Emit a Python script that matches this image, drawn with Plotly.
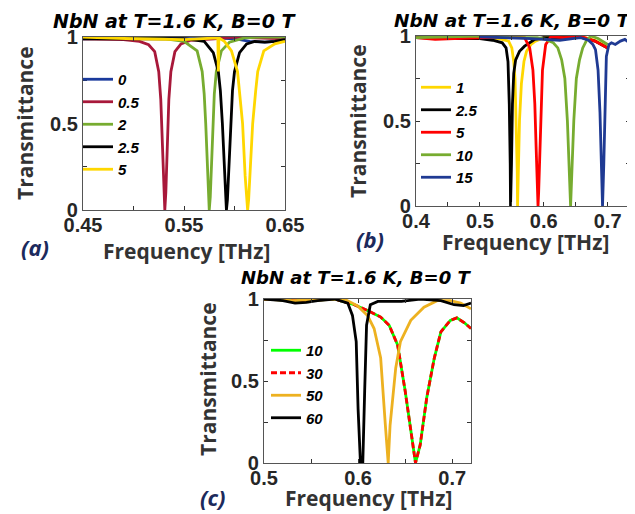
import plotly.graph_objects as go

# ---------------- Panel (a) data ----------------
a_names = ["0", "0.5", "2", "2.5", "5"]
a_colors = ["#1a3a9c", "#a8183a", "#77ac30", "#000000", "#ffd700"]
a_x0 = [0.45, 0.50, 0.55, 0.58, 0.60, 0.615, 0.63, 0.64, 0.65]
a_y0 = [0.99, 0.995, 0.99, 0.995, 0.99, 0.975, 0.97, 0.975, 0.985]
a_x05 = [0.45, 0.49, 0.506, 0.515, 0.521, 0.525, 0.527, 0.529, 0.530, 0.531, 0.532, 0.533, 0.535, 0.537, 0.541, 0.547, 0.556, 0.58, 0.60, 0.62, 0.65]
a_y05 = [0.99, 0.985, 0.975, 0.955, 0.915, 0.80, 0.64, 0.31, 0.10, 0.0, 0.10, 0.31, 0.64, 0.80, 0.915, 0.96, 0.98, 0.99, 1.0, 0.995, 0.99]
a_x2 = [0.45, 0.50, 0.53, 0.55, 0.563, 0.568, 0.570, 0.5715, 0.573, 0.574, 0.575, 0.576, 0.577, 0.5785, 0.580, 0.582, 0.587, 0.595, 0.61, 0.63, 0.65]
a_y2 = [1.0, 0.995, 0.99, 0.975, 0.92, 0.80, 0.67, 0.5, 0.25, 0.075, 0.0, 0.075, 0.25, 0.5, 0.67, 0.80, 0.92, 0.97, 0.995, 1.0, 1.0]
a_x25 = [0.45, 0.50, 0.55, 0.57, 0.579, 0.584, 0.586, 0.588, 0.590, 0.591, 0.592, 0.593, 0.594, 0.596, 0.598, 0.600, 0.605, 0.612, 0.62, 0.63, 0.64, 0.65]
a_y25 = [0.99, 0.99, 0.99, 0.975, 0.91, 0.80, 0.69, 0.5, 0.2, 0.06, 0.0, 0.06, 0.2, 0.5, 0.69, 0.80, 0.91, 0.96, 0.975, 0.97, 0.975, 0.985]
a_x5 = [0.45, 0.50, 0.55, 0.575, 0.5835, 0.584, 0.5845, 0.59, 0.597, 0.603, 0.605, 0.608, 0.6105, 0.612, 0.613, 0.614, 0.6155, 0.618, 0.621, 0.623, 0.629, 0.64, 0.65]
a_y5 = [1.0, 0.99, 0.985, 0.99, 0.995, 0.80, 0.995, 0.975, 0.92, 0.80, 0.69, 0.5, 0.2, 0.06, 0.0, 0.06, 0.2, 0.5, 0.69, 0.80, 0.92, 0.96, 0.975]
a_xs = [a_x0, a_x05, a_x2, a_x25, a_x5]
a_ys = [a_y0, a_y05, a_y2, a_y25, a_y5]

# ---------------- Panel (b) data ----------------
b_names = ["1", "2.5", "5", "10", "15"]
b_colors = ["#ffd700", "#000000", "#ff0000", "#77ac30", "#1f3a93"]
b_x1 = [0.40, 0.45, 0.50, 0.53, 0.545, 0.550, 0.553, 0.555, 0.557, 0.5585, 0.559, 0.5605, 0.562, 0.565, 0.569, 0.573, 0.58, 0.587, 0.60, 0.63, 0.66, 0.68, 0.70]
b_y1 = [0.99, 0.99, 0.99, 0.985, 0.97, 0.93, 0.85, 0.75, 0.5, 0.2, 0.0, 0.2, 0.5, 0.72, 0.85, 0.91, 0.95, 0.97, 0.99, 0.995, 0.995, 0.975, 0.935]
b_x25 = [0.40, 0.45, 0.50, 0.52, 0.535, 0.541, 0.544, 0.546, 0.5475, 0.548, 0.5495, 0.551, 0.553, 0.556, 0.562, 0.570, 0.586, 0.60, 0.63, 0.66, 0.68, 0.70]
b_y25 = [0.99, 0.985, 0.985, 0.975, 0.96, 0.93, 0.85, 0.6, 0.25, 0.0, 0.25, 0.6, 0.78, 0.86, 0.91, 0.94, 0.98, 0.99, 0.99, 0.99, 0.97, 0.93]
b_x5 = [0.40, 0.43, 0.46, 0.50, 0.55, 0.57, 0.578, 0.583, 0.586, 0.588, 0.590, 0.591, 0.592, 0.594, 0.596, 0.598, 0.603, 0.611, 0.63, 0.66, 0.68, 0.70]
b_y5 = [0.99, 0.98, 0.985, 0.99, 0.995, 0.99, 0.93, 0.8, 0.6, 0.35, 0.08, 0.0, 0.08, 0.35, 0.6, 0.8, 0.95, 0.995, 0.99, 0.995, 0.97, 0.93]
b_x10 = [0.40, 0.45, 0.50, 0.55, 0.59, 0.603, 0.615, 0.622, 0.628, 0.633, 0.637, 0.640, 0.642, 0.644, 0.647, 0.651, 0.656, 0.661, 0.667, 0.674, 0.685, 0.70]
b_y10 = [0.99, 0.995, 1.0, 0.99, 0.99, 0.98, 0.96, 0.93, 0.86, 0.75, 0.5, 0.2, 0.0, 0.2, 0.5, 0.75, 0.86, 0.93, 0.975, 1.0, 0.985, 0.95]
b_x15 = [0.50, 0.55, 0.58, 0.60, 0.625, 0.645, 0.658, 0.67, 0.677, 0.681, 0.685, 0.688, 0.690, 0.692, 0.694, 0.696, 0.698, 0.702, 0.706, 0.712, 0.72, 0.727, 0.734]
b_y15 = [0.995, 0.99, 0.985, 0.98, 0.975, 0.985, 0.99, 0.975, 0.95, 0.92, 0.8, 0.55, 0.25, 0.0, 0.25, 0.6, 0.88, 0.95, 0.96, 0.95, 0.97, 0.98, 0.96]
b_xs = [b_x1, b_x25, b_x5, b_x10, b_x15]
b_ys = [b_y1, b_y25, b_y5, b_y10, b_y15]

# ---------------- Panel (c) data ----------------
c_names = ["10", "30", "50", "60"]
c_colors = ["#00ff00", "#ff0000", "#edb120", "#000000"]
c_dash = ["solid", "dash", "solid", "solid"]
c_x10 = [0.50, 0.52, 0.54, 0.56, 0.575, 0.581, 0.596, 0.610, 0.624, 0.633, 0.642, 0.650, 0.658, 0.661, 0.666, 0.673, 0.681, 0.688, 0.698, 0.705, 0.713, 0.72]
c_y10 = [1.0, 0.995, 0.99, 0.995, 1.0, 0.99, 0.965, 0.93, 0.89, 0.84, 0.72, 0.44, 0.11, 0.0, 0.11, 0.40, 0.64, 0.80, 0.87, 0.885, 0.855, 0.82]
c_x30 = c_x10
c_y30 = c_y10
c_x50 = [0.50, 0.53, 0.56, 0.585, 0.599, 0.610, 0.617, 0.624, 0.629, 0.632, 0.634, 0.640, 0.645, 0.656, 0.670, 0.684, 0.698, 0.709, 0.72]
c_y50 = [1.0, 0.99, 0.995, 1.0, 0.96, 0.90, 0.82, 0.64, 0.23, 0.0, 0.23, 0.58, 0.74, 0.87, 0.95, 0.99, 0.99, 0.975, 0.94]
c_x60 = [0.50, 0.52, 0.533, 0.545, 0.557, 0.575, 0.589, 0.594, 0.598, 0.600, 0.6025, 0.605, 0.607, 0.609, 0.613, 0.621, 0.646, 0.666, 0.688, 0.702, 0.712, 0.72]
c_y60 = [1.0, 0.99, 0.975, 0.98, 0.99, 1.0, 0.975, 0.90, 0.74, 0.33, 0.0, 0.0, 0.44, 0.84, 0.965, 0.985, 0.985, 1.0, 0.99, 0.965, 0.96, 0.975]
c_xs = [c_x10, c_x30, c_x50, c_x60]
c_ys = [c_y10, c_y30, c_y50, c_y60]

title_text = "NbN at T=1.6 K, B=0 T"
xlabel = "Frequency [THz]"
ylabel = "Transmittance"

W, H = 635, 514
def px(x):
    return x / W
def py(y):
    return 1 - y / H

fig = go.Figure()

LW = 2.8
for nm, col, xs, ys in zip(a_names, a_colors, a_xs, a_ys):
    fig.add_trace(go.Scatter(x=xs, y=ys, mode="lines", name=nm, line=dict(color=col, width=LW),
                             xaxis="x", yaxis="y", legend="legend"))
for nm, col, xs, ys in zip(b_names, b_colors, b_xs, b_ys):
    fig.add_trace(go.Scatter(x=xs, y=ys, mode="lines", name=nm, line=dict(color=col, width=LW),
                             xaxis="x2", yaxis="y2", legend="legend2"))
for nm, col, ds, xs, ys in zip(c_names, c_colors, c_dash, c_xs, c_ys):
    fig.add_trace(go.Scatter(x=xs, y=ys, mode="lines", name=nm,
                             line=dict(color=col, width=LW, dash=("6px,3px" if ds == "dash" else "solid")),
                             xaxis="x3", yaxis="y3", legend="legend3"))

tickfont = dict(family="Liberation Sans, Arial", size=20, color="#262626", weight="bold")
axcommon = dict(showline=True, linecolor="#555555", linewidth=1.3, mirror="ticks", ticks="inside",
                ticklen=4, tickcolor="#333333", tickwidth=1.2, showgrid=False, zeroline=False,
                tickfont=tickfont, fixedrange=True, automargin=False)

def xax(domain, rng, tick0, dtick, anchor):
    return dict(domain=domain, range=rng, tick0=tick0, dtick=dtick, anchor=anchor, ticklabelstandoff=-3,
                minor=dict(dtick=0.05, tick0=tick0, ticks="inside", ticklen=4, tickcolor="#333333"),
                **axcommon)

def yax(domain, anchor):
    return dict(domain=domain, range=[0, 1], tickvals=[0, 0.5, 1], ticktext=["0", "0.5", "1"], anchor=anchor,
                minor=dict(tickvals=[0.25, 0.75], ticks="inside", ticklen=4, tickcolor="#333333"),
                **axcommon)

legfont = dict(family="Liberation Sans, Arial", size=15, color="#000000", weight="bold", style="italic")
legcommon = dict(bgcolor="rgba(0,0,0,0)", borderwidth=0, font=legfont, xanchor="left", yanchor="top",
                 tracegroupgap=0, itemclick=False, itemdoubleclick=False)

fig.update_layout(
    width=W, height=H, autosize=False,
    margin=dict(l=0, r=0, t=0, b=0, autoexpand=False),
    paper_bgcolor="white", plot_bgcolor="white",
    showlegend=True,
    xaxis=xax([px(75), px(277)], [0.45, 0.65], 0.45, 0.1, "y"),
    yaxis=yax([py(202), py(29)], "x"),
    xaxis2=xax([px(408), px(622)], [0.4, 0.735], 0.4, 0.1, "y2"),
    yaxis2=yax([py(198), py(28)], "x2"),
    xaxis3=xax([px(256), px(463)], [0.5, 0.72], 0.5, 0.1, "y3"),
    yaxis3=yax([py(455), py(291)], "x3"),
    legend=dict(x=px(70), y=py(55), **legcommon),
    legend2=dict(x=px(408), y=py(63), **legcommon),
    legend3=dict(x=px(258), y=py(326), **legcommon),
)

labfont = dict(family="Open Sans", size=21, color="#333333", weight="bold")
panfont = dict(family="Open Sans", size=22, color="#1c2a5c", weight="bold", style="italic")

ann = []
for (tx, ty, fs) in [(166, 1, 19), (504, 1, 18.5), (348, 258, 18)]:
    ann.append(dict(text=title_text, x=px(tx), y=py(ty), xref="paper", yref="paper",
                    showarrow=False, xanchor="center", yanchor="top", borderpad=0,
                    font=dict(family="DejaVu Sans", size=fs, color="#000000", weight="bold", style="italic")))
for (tx, ty) in [(178, 243), (517, 234), (360, 490)]:
    ann.append(dict(text=xlabel, x=px(tx), y=py(ty), xref="paper", yref="paper",
                    showarrow=False, xanchor="center", yanchor="middle", font=labfont))
for (tx, ty) in [(17, 115), (350, 113), (200, 371)]:
    ann.append(dict(text=ylabel, x=px(tx), y=py(ty), xref="paper", yref="paper", textangle=-90,
                    showarrow=False, xanchor="center", yanchor="middle", font=labfont))
for (t, tx, ty) in [("(a)", 27, 239), ("(b)", 362, 231), ("(c)", 205, 489)]:
    ann.append(dict(text=t, x=px(tx), y=py(ty), xref="paper", yref="paper",
                    showarrow=False, xanchor="center", yanchor="middle", font=panfont))
fig.update_layout(annotations=ann)

fig.write_html("out.html")
